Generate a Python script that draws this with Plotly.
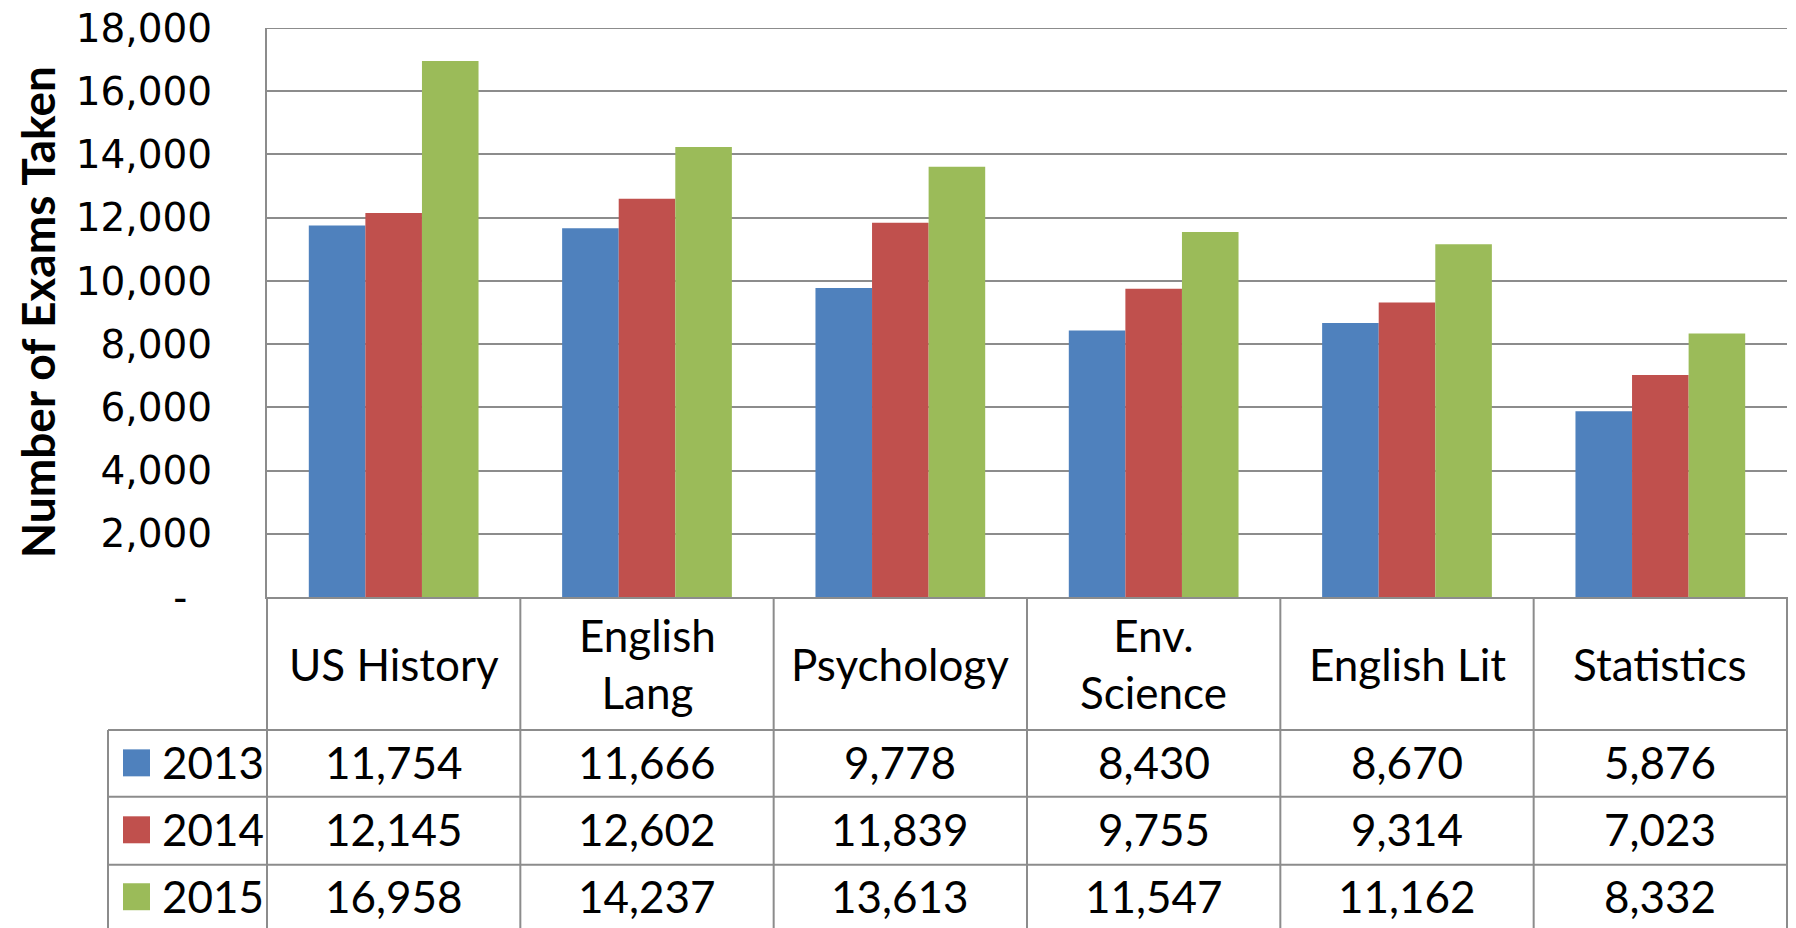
import plotly.graph_objects as go

categories = ["US History", "English<br>Lang", "Psychology", "Env.<br>Science", "English Lit", "Statistics"]
years = ["2013", "2014", "2015"]
v2013 = [11754, 11666, 9778, 8430, 8670, 5876]
v2014 = [12145, 12602, 11839, 9755, 9314, 7023]
v2015 = [16958, 14237, 13613, 11547, 11162, 8332]
colors = ["#4F81BD", "#C0504D", "#9BBB59"]
tick_vals = [0, 2000, 4000, 6000, 8000, 10000, 12000, 14000, 16000, 18000]
tick_text = ["-\u00a0\u00a0"] + [f"{v:,}" for v in tick_vals[1:]]

series = [v2013, v2014, v2015]

W, H = 1796, 928
OFF = 8  # page body margin
# desired page-pixel plot area
PL, PR, PT, PB = 267, 1787, 27.5, 597
L = PL - OFF
T = PT - OFF
plot_w = PR - PL
plot_h = PB - PT
R = W - L - plot_w
B = H - T - plot_h

def py(Y):
    return (PB - Y) / plot_h

def px(X):
    return (X - PL) / plot_w

xs = list(range(len(categories)))

fig = go.Figure()
for name, vals, col in zip(years, series, colors):
    fig.add_trace(go.Bar(x=xs, y=vals, name=name, marker=dict(color=col, line=dict(width=0)),
                         showlegend=False))

grid = "#8c8c8c"
font_main = "Lato, 'Noto Sans', sans-serif"
tsize = 44

shapes = []
row_tops = [730, 797, 865, 932]
for Y in row_tops:
    shapes.append(dict(type="line", xref="paper", yref="paper", x0=px(108), x1=1, y0=py(Y), y1=py(Y),
                       line=dict(color=grid, width=2)))
n = len(categories)
for k in range(n + 1):
    shapes.append(dict(type="line", xref="paper", yref="paper", x0=k / n, x1=k / n, y0=0, y1=py(940),
                       line=dict(color=grid, width=2)))
shapes.append(dict(type="line", xref="paper", yref="paper", x0=px(108), x1=px(108), y0=py(730), y1=py(940),
                   line=dict(color=grid, width=2)))
# top gridline at the range edge
shapes.append(dict(type="line", xref="paper", yref="y", x0=0, x1=1, y0=tick_vals[-1], y1=tick_vals[-1],
                   line=dict(color=grid, width=2), layer="below"))

annotations = []
for i, c in enumerate(categories):
    annotations.append(dict(x=i, y=py(664), xref="x", yref="paper", text=c, showarrow=False,
                            font=dict(family=font_main, size=tsize, color="black"),
                            xanchor="center", yanchor="middle"))
row_centers = [762, 829, 896]
for r, (name, vals, col) in enumerate(zip(years, series, colors)):
    yc = py(row_centers[r])
    for i, v in enumerate(vals):
        annotations.append(dict(x=i, y=yc, xref="x", yref="paper", text=f"{v:,}", showarrow=False,
                                font=dict(family=font_main, size=tsize, color="black"),
                                xanchor="center", yanchor="middle"))
    annotations.append(dict(x=px(160), y=yc, xref="paper", yref="paper", text=name, showarrow=False,
                            font=dict(family=font_main, size=tsize, color="black"),
                            xanchor="left", yanchor="middle"))
    ys = py(row_centers[r] + 1)
    shapes.append(dict(type="rect", xref="paper", yref="paper", x0=px(123), x1=px(150),
                       y0=ys - 13.5 / plot_h, y1=ys + 13.5 / plot_h,
                       fillcolor=col, line=dict(width=0)))

annotations.append(dict(x=px(37), y=py(312), xref="paper", yref="paper", text="<b>Number of Exams Taken</b>",
                        textangle=-90, showarrow=False,
                        font=dict(family=font_main, size=46, color="black"),
                        xanchor="center", yanchor="middle"))

fig.update_layout(
    width=W, height=H,
    margin=dict(l=L, r=R, t=T, b=B),
    paper_bgcolor="white", plot_bgcolor="white",
    barmode="group", bargap=0.33, bargroupgap=0,
    shapes=shapes, annotations=annotations,
    xaxis=dict(range=[-0.5, n - 0.5], showticklabels=False, showgrid=False, zeroline=False,
               showline=True, linecolor=grid, linewidth=2, ticks="", automargin=False),
    yaxis=dict(range=[0, 18000], tickvals=tick_vals, ticktext=tick_text, showgrid=True,
               gridcolor=grid, gridwidth=2, zeroline=False, showline=True, linecolor=grid,
               linewidth=2, ticks="", ticklabelstandoff=45, automargin=False,
               ticklabeloverflow="allow",
               tickfont=dict(family="'DejaVu Sans', sans-serif", size=39, color="black")),
)

fig.write_html("out.html")
